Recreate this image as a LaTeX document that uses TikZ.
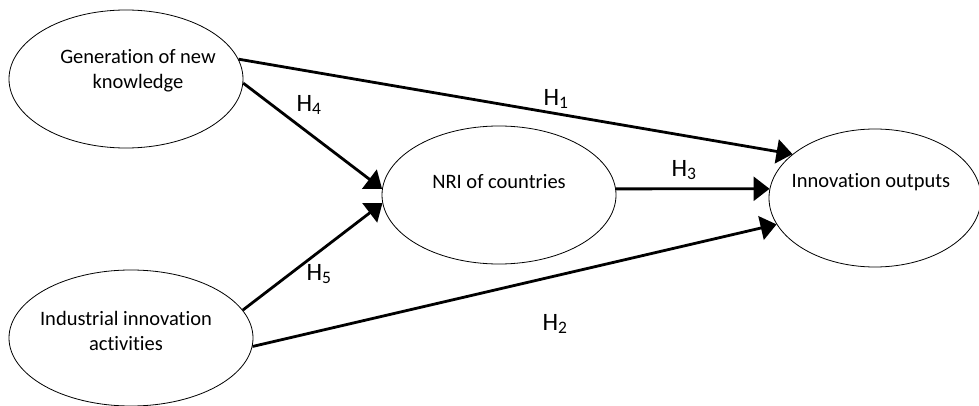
\documentclass[tikz,border=0pt]{standalone}
\usepackage{fontspec}
\setmainfont{Carlito}[Ligatures={NoCommon}]
\usetikzlibrary{shapes.geometric,arrows.meta}
\begin{document}
\begin{tikzpicture}[x=1pt,y=-1pt,
  ell/.style={draw,ellipse,line width=0.8pt,inner sep=0pt},
  lbl/.style={font=\fontsize{20.5}{25}\selectfont,align=center,inner sep=0pt},
  hyp/.style={font=\fontsize{25}{29}\selectfont,inner sep=0pt},
  arr/.style={line width=2.8pt,-{Triangle[length=16pt,width=24pt]}}]
\useasboundingbox (0,0) rectangle (979,406);
\node[ell,minimum width=234pt,minimum height=138pt] (gen) at (126,79) {};
\node[ell,minimum width=234pt,minimum height=138pt] (nri) at (499,195) {};
\node[ell,minimum width=212pt,minimum height=138pt] (out) at (875,198) {};
\node[ell,minimum width=244pt,minimum height=136pt] (ind) at (131,338) {};
\node[lbl] (genT) at (138,71) {Generation of new\\knowledge};
\node[lbl] (nriT) at (499,182) {NRI of countries};
\node[lbl] (outT) at (871,182) {Innovation outputs};
\node[lbl] (indT) at (126,331) {Industrial innovation\\activities};
\draw[arr] (gen.10) -- (out.152);
\draw[arr] (gen.-2) -- (nri.177);
\draw[arr] (ind.14) -- (nri.184);
\draw[arr] (nri.3) -- (out.175);
\draw[arr] (ind.-4) -- (out.195);
\node[hyp] (h1) at (556,99) {H\textsubscript{1}};
\node[hyp] (h4) at (309,105) {H\textsubscript{4}};
\node[hyp] (h3) at (684,170) {H\textsubscript{3}};
\node[hyp] (h5) at (319,274) {H\textsubscript{5}};
\node[hyp] (h2) at (555,324) {H\textsubscript{2}};
\end{tikzpicture}
\end{document}
